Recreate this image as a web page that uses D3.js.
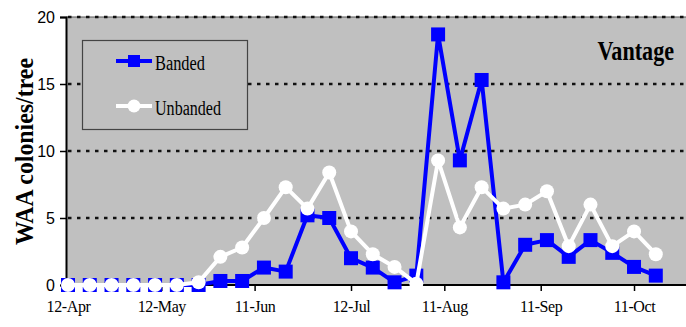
<!DOCTYPE html>
<html><head><meta charset="utf-8">
<script src="https://cdn.jsdelivr.net/npm/d3@7"></script>
<style>html,body{margin:0;padding:0;background:#fff;}svg{display:block;}</style>
</head><body>
<svg id="c" width="686" height="327"></svg>
<script>
const dates = ["2000-04-12","2000-04-19","2000-04-26","2000-05-03","2000-05-10","2000-05-17","2000-05-24","2000-05-31","2000-06-07","2000-06-14","2000-06-21","2000-06-28","2000-07-05","2000-07-12","2000-07-19","2000-07-26","2000-08-02","2000-08-09","2000-08-16","2000-08-23","2000-08-30","2000-09-06","2000-09-13","2000-09-20","2000-09-27","2000-10-04","2000-10-11","2000-10-18"];
const banded   = [0,0,0,0,0,0,0,0.3,0.3,1.3,1.0,5.2,5.0,2.0,1.3,0.2,0.7,18.7,9.3,15.3,0.2,3.0,3.35,2.1,3.35,2.4,1.35,0.7];
const unbanded = [0,0,0,0,0,0,0.2,2.1,2.8,5.0,7.3,5.7,8.4,4.0,2.3,1.35,0.1,9.3,4.3,7.3,5.7,6.0,7.0,2.9,6.0,2.9,4.0,2.3];
const xTickDates = ["2000-04-12","2000-05-12","2000-06-11","2000-07-12","2000-08-11","2000-09-11","2000-10-11"];
const xTickLabels = ["12-Apr","12-May","11-Jun","12-Jul","11-Aug","11-Sep","11-Oct"];
const yTicks = [0,5,10,15,20];
const seriesNames = ["Banded","Unbanded"];
const title = "Vantage";
const yTitle = "WAA colonies/tree";

const parse = d3.utcParse("%Y-%m-%d");
const svg = d3.select("#c");
const L = 66, R = 686, T = 17, B = 285;
const x = d3.scaleUtc().domain([parse("2000-04-12"), parse("2000-10-28")]).range([68, 68 + 199*3.11]);
const y = d3.scaleLinear().domain([0,20]).range([B, T]);

// plot background
svg.append("rect").attr("x", L).attr("y", T).attr("width", R-L).attr("height", B-T).attr("fill", "#c0c0c0");
svg.append("line").attr("x1", L).attr("x2", R).attr("y1", T).attr("y2", T).attr("stroke", "#555").attr("stroke-width", 1);

// gridlines
svg.append("g").selectAll("line").data(yTicks.filter(v => v > 0)).join("line")
  .attr("x1", L+2).attr("x2", R).attr("y1", d => y(d)).attr("y2", d => y(d))
  .attr("stroke", "#111").attr("stroke-width", 2.5).attr("stroke-dasharray", "3.5,5.5");

// legend box
const lg = svg.append("g");
lg.append("rect").attr("x", 82.5).attr("y", 40.5).attr("width", 165).attr("height", 89)
  .attr("fill", "#c0c0c0").attr("stroke", "#444").attr("stroke-width", 1.2);

// axes
const yAxis = d3.axisLeft(y).tickValues(yTicks).tickSize(6).tickPadding(5);
const gy = svg.append("g").attr("transform", `translate(${L},0)`).call(yAxis);
gy.select(".domain").attr("stroke", "#000").attr("stroke-width", 2);
gy.selectAll(".tick line").attr("stroke", "#000").attr("stroke-width", 1.5);
gy.selectAll(".tick text").attr("font-family", "Liberation Sans, Arial, sans-serif").attr("font-size", 16).attr("fill", "#000").attr("dy", "0.36em");

const xAxis = d3.axisBottom(x).tickValues(xTickDates.map(parse)).tickFormat((d,i) => xTickLabels[i]).tickSize(6).tickPadding(10).tickSizeOuter(0);
const gx = svg.append("g").attr("transform", `translate(0,${B})`).call(xAxis);
gx.select(".domain").attr("stroke", "#000").attr("stroke-width", 2).attr("d", `M${L},0H${R}`);
gx.selectAll(".tick line").attr("stroke", "#000").attr("stroke-width", 1.5);
gx.selectAll(".tick text").attr("font-family", "Liberation Serif, Times New Roman, serif").attr("font-size", 16).attr("fill", "#000").attr("letter-spacing", "-0.4");

// series
const pts = (vals) => vals.map((v,i) => [x(parse(dates[i])), y(v)]);
const line = d3.line();
const bp = pts(banded), up = pts(unbanded);
svg.append("path").attr("d", line(bp)).attr("fill", "none").attr("stroke", "#0000ff").attr("stroke-width", 4).attr("stroke-linejoin", "round");
svg.append("g").selectAll("rect").data(bp).join("rect")
  .attr("x", d => d[0]-7).attr("y", d => d[1]-7).attr("width", 14).attr("height", 14).attr("fill", "#0000ff");
svg.append("path").attr("d", line(up)).attr("fill", "none").attr("stroke", "#fff").attr("stroke-width", 4).attr("stroke-linejoin", "round");
svg.append("g").selectAll("circle").data(up).join("circle")
  .attr("cx", d => d[0]).attr("cy", d => d[1]).attr("r", 7).attr("fill", "#fff");

// legend content
lg.raise();
const lgy = [61, 106];
lg.append("line").attr("x1", 116).attr("x2", 152).attr("y1", lgy[0]).attr("y2", lgy[0]).attr("stroke", "#0000ff").attr("stroke-width", 4);
lg.append("rect").attr("x", 128).attr("y", lgy[0]-6).attr("width", 12).attr("height", 12).attr("fill", "#0000ff");
lg.append("line").attr("x1", 116).attr("x2", 152).attr("y1", lgy[1]).attr("y2", lgy[1]).attr("stroke", "#fff").attr("stroke-width", 4);
lg.append("circle").attr("cx", 134).attr("cy", lgy[1]).attr("r", 6.5).attr("fill", "#fff");
const lens = [50, 66];
seriesNames.forEach((n,i) => {
  lg.append("text").attr("x", 155).attr("y", lgy[i]+9).text(n)
    .attr("font-family", "Liberation Serif, Times New Roman, serif").attr("font-size", 20)
    .attr("textLength", lens[i]).attr("lengthAdjust", "spacingAndGlyphs").attr("fill", "#000");
});

// title (horizontally condensed via transform)
svg.append("text").attr("transform", "translate(674,60) scale(0.79,1)").attr("text-anchor", "end").text(title)
  .attr("font-family", "Liberation Serif, Times New Roman, serif").attr("font-weight", "bold").attr("font-size", 28)
  .attr("fill", "#000");

// y title
svg.append("text").attr("transform", "translate(33,245) rotate(-90)").text(yTitle)
  .attr("font-family", "Liberation Serif, Times New Roman, serif").attr("font-weight", "bold").attr("font-size", 26)
  .attr("textLength", 187).attr("lengthAdjust", "spacingAndGlyphs").attr("fill", "#000");
</script>
</body></html>
